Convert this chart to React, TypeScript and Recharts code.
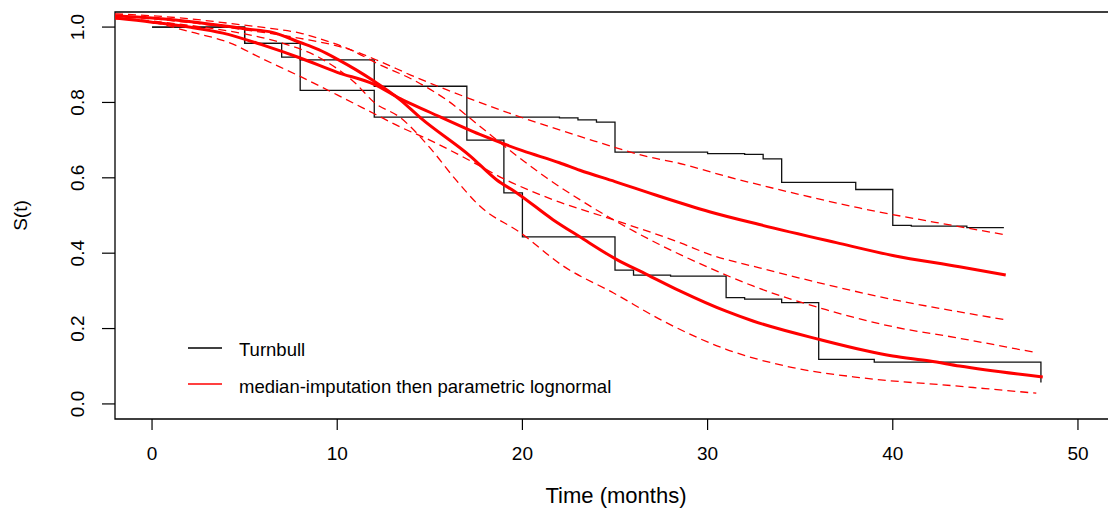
import React from "react";
import { LineChart, Line, XAxis, YAxis, ReferenceArea } from "recharts";

// Turnbull NPMLE: the two step lines (left / right ends of the Turnbull intervals)
const turnATimes = [0, 5, 7, 8, 12, 22, 23, 24, 25, 30, 32, 33, 34, 38, 40, 41, 44, 46];
const turnASurv = [1.0, 0.957, 0.92, 0.832, 0.761, 0.759, 0.754, 0.748, 0.668, 0.664, 0.662, 0.65, 0.588, 0.569, 0.474, 0.472, 0.468, 0.468];
const turnBTimes = [0, 5, 8, 12, 17, 19, 20, 25, 26, 28, 31, 32, 34, 36, 39, 48];
const turnBSurv = [1.0, 0.957, 0.913, 0.843, 0.7, 0.56, 0.4435, 0.355, 0.342, 0.339, 0.282, 0.278, 0.269, 0.118, 0.111, 0.057];

// lognormal fit, steep curve + bands
const fit1Times = [-2, 0, 2, 5.1, 6.5, 8, 9, 10, 11, 12, 13.4, 14.5, 17.2, 18.6, 19.7, 21.65, 23.1, 25.1, 26.7, 28.5, 31, 32.45, 36.05, 40, 42, 43.6, 48.1];
const fit1Surv = [1.03, 1.024, 1.015, 0.995, 0.986, 0.959, 0.94, 0.915, 0.887, 0.856, 0.807, 0.759, 0.657, 0.595, 0.56, 0.489, 0.4435, 0.383, 0.344, 0.3, 0.246, 0.22, 0.171, 0.127, 0.114, 0.1007, 0.0716];
const fit1UpTimes = [-2, 0, 2, 5, 6.5, 8, 9, 10.7, 12.3, 14.1, 15.9, 17.7, 19.5, 21.3, 23.1, 24.9, 27.4, 30.1, 32.45, 36.4, 40, 43.4, 47.75];
const fit1UpSurv = [1.035, 1.03, 1.022, 1.005, 0.996, 0.984, 0.97, 0.94, 0.9, 0.86, 0.807, 0.737, 0.666, 0.6, 0.542, 0.489, 0.423, 0.361, 0.313, 0.25, 0.205, 0.176, 0.136];
const fit1LoTimes = [-2, 0, 3, 5, 7, 9, 11, 12, 13.4, 15, 16.4, 17.7, 19.9, 22.2, 24.9, 27.6, 31, 34.6, 38.2, 43.4, 47.75];
const fit1LoSurv = [1.025, 1.016, 0.998, 0.982, 0.958, 0.92, 0.85, 0.8, 0.76, 0.68, 0.595, 0.525, 0.454, 0.366, 0.295, 0.22, 0.145, 0.0964, 0.07, 0.0477, 0.0284];

// lognormal fit, flatter curve + bands
const fit2Times = [-2, 0, 2, 3.83, 6, 8, 10, 12, 13.4, 15, 17.7, 20, 22, 23.1, 25, 27.4, 30.1, 32.8, 36.95, 40, 43.6, 46.1];
const fit2Surv = [1.024, 1.013, 1.0, 0.984, 0.952, 0.918, 0.88, 0.848, 0.81, 0.774, 0.715, 0.672, 0.64, 0.62, 0.59, 0.551, 0.51, 0.476, 0.428, 0.394, 0.364, 0.342];
const fit2UpTimes = [-2, 0, 2, 5.1, 8, 10.7, 12.3, 14, 15.9, 19.5, 23.1, 26.7, 28.5, 31, 34.6, 38.2, 43.25, 46];
const fit2UpSurv = [1.03, 1.022, 1.012, 0.992, 0.97, 0.94, 0.909, 0.872, 0.834, 0.768, 0.71, 0.657, 0.638, 0.604, 0.56, 0.52, 0.4735, 0.4496];
const fit2LoTimes = [-2, 0, 2, 4.2, 6, 8, 10, 12, 13.4, 15, 17, 19.1, 21.65, 24.9, 28.5, 30.1, 32.8, 36.4, 40, 43.4, 46];
const fit2LoSurv = [1.022, 1.013, 0.988, 0.958, 0.915, 0.869, 0.82, 0.77, 0.735, 0.7, 0.65, 0.595, 0.542, 0.489, 0.428, 0.397, 0.361, 0.317, 0.277, 0.246, 0.224];

const xTicks = [0, 10, 20, 30, 40, 50];
const yTicks = [0, 0.2, 0.4, 0.6, 0.8, 1.0];

const legendLabels = ["Turnbull", "median-imputation then parametric lognormal"];

const FONT = '"Liberation Sans", Arial, Helvetica, sans-serif';

const toRows = (ts: number[], ss: number[]) => ts.map((t, i) => ({ t, s: ss[i] }));

const steps = [toRows(turnATimes, turnASurv), toRows(turnBTimes, turnBSurv)];
const fits = [toRows(fit1Times, fit1Surv), toRows(fit2Times, fit2Surv)];
const bands = [
  toRows(fit1UpTimes, fit1UpSurv),
  toRows(fit1LoTimes, fit1LoSurv),
  toRows(fit2UpTimes, fit2UpSurv),
  toRows(fit2LoTimes, fit2LoSurv),
];

const XTick = (props: any) => (
  <text x={props.x} y={460} textAnchor="middle" fontSize={19} fontFamily={FONT} fill="#000">
    {props.payload.value}
  </text>
);

const YTick = (props: any) => (
  <text
    x={78}
    y={props.y}
    transform={`rotate(-90 78 ${props.y})`}
    textAnchor="middle"
    dominantBaseline="central"
    fontSize={19}
    fontFamily={FONT}
    fill="#000"
  >
    {Number(props.payload.value).toFixed(1)}
  </text>
);

export default function App() {
  return (
    <div style={{ position: "absolute", left: 0, top: 0, width: 1108, height: 510, overflow: "hidden", background: "#fff" }}>
      <LineChart width={1135} height={510} margin={{ top: 12, right: 20, left: 0, bottom: 0 }}>
        <XAxis
          type="number"
          dataKey="t"
          domain={[-2, 52]}
          ticks={xTicks}
          allowDataOverflow
          height={91}
          tickSize={11}
          axisLine={false}
          tickLine={{ stroke: "#000", strokeWidth: 1.2 }}
          tick={<XTick />}
          label={{
            content: () => (
              <text x={616} y={503} textAnchor="middle" fontSize={22} fontFamily={FONT} fill="#000">
                Time (months)
              </text>
            ),
          }}
        />
        <YAxis
          type="number"
          domain={[-0.04, 1.04]}
          ticks={yTicks}
          allowDataOverflow
          width={115}
          tickSize={13}
          axisLine={false}
          tickLine={{ stroke: "#000", strokeWidth: 1.2 }}
          tick={<YTick />}
          label={{
            content: () => (
              <text
                x={20}
                y={215.5}
                transform="rotate(-90 20 215.5)"
                textAnchor="middle"
                dominantBaseline="central"
                fontSize={19}
                fontFamily={FONT}
                fill="#000"
              >
                S(t)
              </text>
            ),
          }}
        />
        <ReferenceArea x1={-2} x2={52} y1={-0.04} y2={1.04} fill="none" stroke="#000" strokeWidth={1.3} ifOverflow="visible" />
        {steps.map((d, i) => (
          <Line
            key={`turn${i}`}
            data={d}
            dataKey="s"
            type="stepAfter"
            stroke="#111"
            strokeWidth={1.3}
            dot={false}
            isAnimationActive={false}
          />
        ))}
        {bands.map((d, i) => (
          <Line
            key={`band${i}`}
            data={d}
            dataKey="s"
            type="monotone"
            stroke="#ff0000"
            strokeWidth={1.3}
            strokeDasharray="8 5"
            dot={false}
            isAnimationActive={false}
          />
        ))}
        {fits.map((d, i) => (
          <Line
            key={`fit${i}`}
            data={d}
            dataKey="s"
            type="monotone"
            stroke="#ff0000"
            strokeWidth={3}
            dot={false}
            isAnimationActive={false}
          />
        ))}
      </LineChart>
      <svg width={720} height={80} style={{ position: "absolute", left: 0, top: 330 }}>
        <line x1={188} x2={222} y1={18} y2={18} stroke="#000" strokeWidth={1.3} />
        <line x1={188} x2={222} y1={54} y2={54} stroke="#ff0000" strokeWidth={1.3} />
        <text x={239} y={19} dominantBaseline="central" fontSize={18.5} fontFamily={FONT} fill="#000">
          {legendLabels[0]}
        </text>
        <text x={239} y={56} dominantBaseline="central" fontSize={18.5} fontFamily={FONT} fill="#000">
          {legendLabels[1]}
        </text>
      </svg>
    </div>
  );
}
